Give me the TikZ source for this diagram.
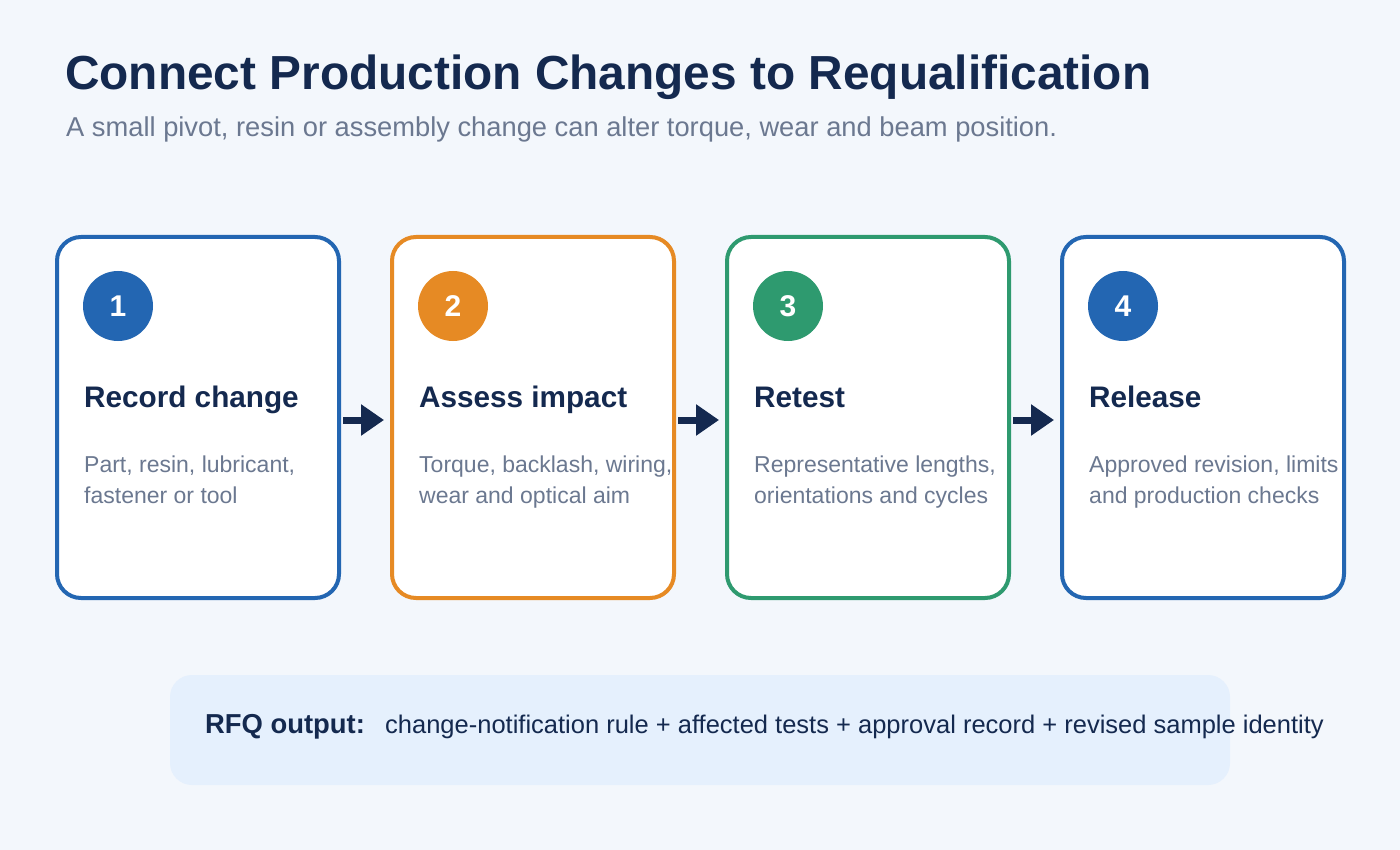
\documentclass[tikz,border=0pt]{standalone}
\usepackage{fontspec}
\setmainfont{Liberation Sans}
\usetikzlibrary{arrows.meta}
\definecolor{bg}{HTML}{F3F7FC}
\definecolor{navy}{HTML}{14294F}
\definecolor{gray}{HTML}{6B7890}
\definecolor{cblue}{HTML}{2366B2}
\definecolor{corange}{HTML}{E68A24}
\definecolor{cgreen}{HTML}{2E9A6F}
\definecolor{rfqbg}{HTML}{E5F0FD}
\tikzset{
  card/.style={draw=#1, line width=4pt, fill=white, rounded corners=24pt, minimum width=282pt, minimum height=361pt, anchor=north west, inner sep=0pt, outer sep=0pt},
  badge/.style={circle, fill=#1, minimum size=70pt, inner sep=0pt, text=white, font=\fontsize{30}{36}\selectfont\bfseries},
  heading/.style={anchor=base west, inner sep=0pt, text=navy, font=\fontsize{29.7}{34}\selectfont\bfseries},
  body/.style={anchor=base west, inner sep=0pt, text=gray, align=left, font=\fontsize{23}{31}\selectfont},
  flow/.style={draw=navy, line width=7pt, -{Triangle[length=23pt,width=30pt]}, shorten <=4pt, shorten >=8pt}
}
\begin{document}
\begin{tikzpicture}[x=1pt,y=-1pt]
\useasboundingbox (0,0) rectangle (1400,850);
\fill[bg] (0,0) rectangle (1400,850);
\node[anchor=base west, inner sep=0pt, text=navy, font=\fontsize{47.8}{58}\selectfont\bfseries] (title) at (65,90) {Connect Production Changes to Requalification};
\node[anchor=base west, inner sep=0pt, text=gray, font=\fontsize{27.3}{32}\selectfont] (sub) at (66,137) {A small pivot, resin or assembly change can alter torque, wear and beam position.};

\node[card=cblue] (c1) at (57,237) {};
\node[card=corange] (c2) at (392,237) {};
\node[card=cgreen] (c3) at (727,237) {};
\node[card=cblue] (c4) at (1062,237) {};

\node[badge=cblue] (b1) at (118,306) {1};
\node[badge=corange] (b2) at (453,306) {2};
\node[badge=cgreen] (b3) at (788,306) {3};
\node[badge=cblue] (b4) at (1123,306) {4};

\node[heading] (h1) at (84,407) {Record change};
\node[heading] (h2) at (419,407) {Assess impact};
\node[heading] (h3) at (754,407) {Retest};
\node[heading] (h4) at (1089,407) {Release};

\node[body] (t1) at (84,503) {Part, resin, lubricant,\\fastener or tool};
\node[body] (t2) at (419,503) {Torque, backlash, wiring,\\wear and optical aim};
\node[body] (t3) at (754,503) {Representative lengths,\\orientations and cycles};
\node[body] (t4) at (1089,503) {Approved revision, limits\\and production checks};

\draw[flow] (c1.east |- 0,420) -- (c2.west |- 0,420);
\draw[flow] (c2.east |- 0,420) -- (c3.west |- 0,420);
\draw[flow] (c3.east |- 0,420) -- (c4.west |- 0,420);

\node[fill=rfqbg, rounded corners=22pt, minimum width=1060pt, minimum height=110pt, anchor=north west, inner sep=0pt, outer sep=0pt] (rfq) at (170,675) {};
\node[anchor=base west, inner sep=0pt, text=navy, font=\fontsize{27.4}{32}\selectfont\bfseries] (rl) at (205,733) {RFQ output:};
\node[anchor=base west, inner sep=0pt, text=navy, font=\fontsize{25.5}{30}\selectfont] (rt) at (385,733) {change-notification rule + affected tests + approval record + revised sample identity};
\end{tikzpicture}
\end{document}
